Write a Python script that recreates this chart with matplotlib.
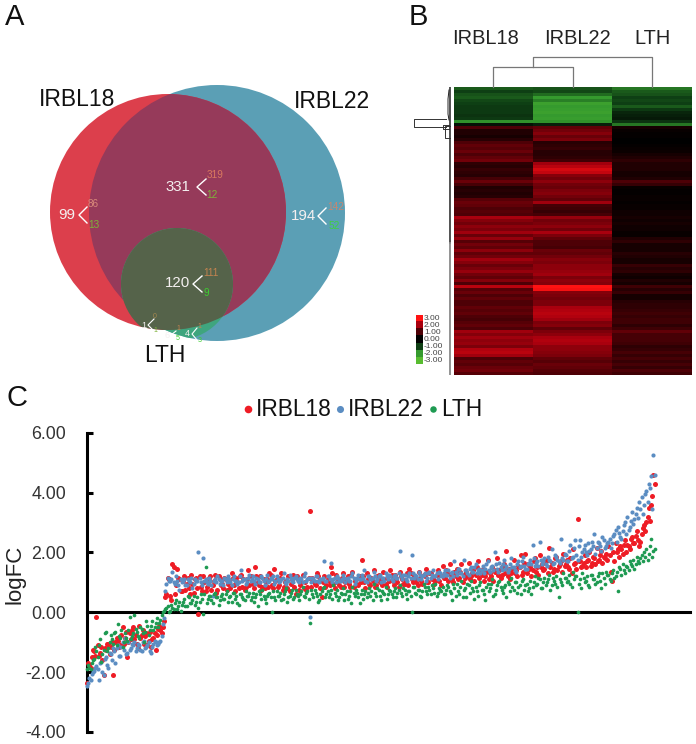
import matplotlib
matplotlib.use("Agg")
import matplotlib.pyplot as plt
from matplotlib.colors import LinearSegmentedColormap
from matplotlib.patches import Circle
import numpy as np

plt.rcParams['font.family'] = ['Liberation Sans', 'DejaVu Sans']

W, H = 696, 744

# venn counts
venn_labels = ["IRBL18", "IRBL22", "LTH"]
venn_totals = [99, 331, 194, 120, 1, 6, 4]
venn_up = [86, 319, 142, 111, 0, 1, 1]
venn_down = [13, 12, 52, 9, 1, 5, 3]

# heatmap, one value per row band
heat_irbl18 = [-1.3,-1.0,-1.2,-1.3,-1.1,-1.0,-0.9,-0.9,-0.9,-0.8,-0.9,-1.9,-0.3,
    1.0,.4,.4,.3,.5,1.0,1.2,1.1,1.3,1.0,1.2,1.4,.6,.5,.7,.6,.5,.9,1.3,.9,.4,.5,.4,.5,1.1,1.3,1.2,
    1.0,1.1,1.0,2.0,1.6,1.4,1.7,1.5,1.9,1.3,1.8,1.1,1.4,1.2,1.7,1.2,1.4,1.9,1.6,1.3,1.5,1.8,1.4,1.2,
    1.6,1.0,2.2,1.1,1.3,1.0,1.2,1.0,1.0,1.2,1.1,1.2,1.0,.9,1.1,1.2,1.0,1.9,1.6,1.9,1.7,1.8,1.5,2.1,
    2.2,1.9,1.0,1.2,1.1,1.3,1.4,1.1]
heat_irbl22 = [-1.2,-1.1,-1.5,-2.0,-1.7,-2.2,-2.0,-2.1,-2.2,-2.0,-2.1,-1.9,-0.5,
    1.2,1.4,1.6,1.3,1.5,.5,.6,.7,.5,.5,.6,.8,1.9,2.2,2.5,2.3,1.6,1.4,1.7,1.4,1.3,1.5,1.6,1.4,1.2,1.9,.9,
    .8,.7,.9,1.8,1.4,1.5,1.7,1.4,2.0,1.5,1.2,1.0,1.0,.9,1.3,1.2,1.4,1.6,1.5,1.7,1.7,1.8,1.9,1.5,
    1.7,1.6,3.0,2.9,1.6,1.5,1.4,1.5,1.5,2.0,2.1,2.2,2.1,1.9,1.5,1.6,1.2,1.5,1.7,2.0,2.1,2.0,1.7,1.7,
    1.6,1.5,1.2,1.1,1.3,1.2,1.1,1.0]
heat_lth = [-1.6,-1.3,-1.2,-1.0,-1.1,-1.0,-1.3,-0.9,-0.6,-0.5,-0.4,-0.8,-1.6,
    .3,.1,.05,.05,.0,.0,.05,.1,.15,.3,.4,.6,.4,.4,.4,.3,.3,.4,1.0,.7,.1,.05,.05,.1,.1,.05,.1,
    .1,.2,.2,.3,.2,.3,.2,.2,.1,.1,.4,.6,.3,.3,.3,.5,.4,.3,.3,.7,.5,.6,.3,.2,
    .4,.3,.8,.5,.7,.3,.3,.5,.6,.6,.7,.8,.7,.8,.8,.6,.8,1.2,.9,.9,.9,.8,.6,.7,
    .9,.7,.9,.7,.9,.7,1.0,.8]
heat_ticks = [3.0, 2.0, 1.0, 0.0, -1.0, -2.0, -3.0]
col_merge_heights = [0.67, 1.0]

# logFC of the sorted genes, odd and even ranks
logfc_irbl18 = [-2.35,-1.75,-1.5,-1.3,-0.15,-1.45,-1.15,-2.1,-1.25,-1.05,
    -1.15,-2.1,-1.0,-0.95,-1.1,-0.5,-0.85,-1.5,-0.7,-0.6,
    -0.9,-1.05,-0.45,-0.75,-1.05,-0.7,-0.95,-1.15,-0.85,-1.25,
    -0.55,-0.6,-0.5,0.5,1.15,0.55,1.6,0.6,1.45,1.1,
    0.7,1.2,0.95,0.8,1.25,0.65,1.15,-0.05,0.85,1.2,
    0.7,1.0,1.2,0.9,1.25,0.75,1.1,0.95,1.15,0.75,
    1.05,1.3,0.9,1.15,0.8,1.25,1.1,0.85,1.4,1.2,
    0.95,1.5,1.0,1.2,0.85,0.8,1.1,1.3,0.9,1.45,
    1.1,0.9,1.3,0.85,1.05,1.2,0.95,1.25,0.6,1.1,
    0.9,1.25,1.0,0.85,3.4,1.15,0.95,1.3,1.05,0.5,
    1.2,0.9,1.05,1.5,0.95,1.25,1.1,0.85,1.3,1.0,
    1.2,0.85,1.35,1.05,0.95,1.2,1.75,1.0,1.3,0.95,
    1.15,1.4,0.9,1.25,1.1,1.35,0.95,1.2,1.4,1.05,
    1.25,1.0,1.35,1.1,0.95,1.3,1.45,1.1,1.2,1.0,
    1.35,1.05,1.25,1.45,1.0,1.3,1.15,1.05,1.4,1.25,
    1.55,1.15,1.3,1.6,1.1,1.35,1.45,1.15,1.6,1.25,
    1.35,1.65,1.2,1.4,1.25,1.7,1.3,1.45,1.2,1.75,
    1.3,1.5,1.35,1.8,1.4,1.25,1.6,2.05,1.45,1.3,
    1.75,1.4,1.55,1.9,1.35,1.95,1.6,1.5,1.4,1.8,
    1.5,1.9,1.6,1.45,1.75,2.15,1.65,1.45,1.85,1.55,
    1.7,1.95,1.6,1.5,1.8,2.1,1.65,3.1,1.7,1.55,
    1.9,1.7,2.0,1.65,1.8,2.15,1.75,2.05,1.85,1.95,
    2.2,1.35,2.0,2.3,2.1,2.2,1.95,2.4,2.25,2.1,
    2.5,2.3,2.7,2.2,2.6,2.9,3.0,3.5,3.6,4.6]
logfc_irbl18_b = [-1.7,-1.85,-1.25,-1.45,-1.1,-1.35,-1.6,-1.2,-1.05,-1.4,
    -1.0,-1.25,-0.85,-1.15,-0.75,-1.05,-0.65,-1.0,-0.9,-0.5,
    -0.75,-1.2,-0.85,-0.6,-0.8,-1.1,-0.65,-0.9,-0.7,-0.75,
    -0.45,-0.7,-0.3,0.6,1.1,0.4,1.5,0.9,1.15,0.7,
    1.05,0.75,1.15,0.6,0.95,1.1,0.8,1.2,0.7,1.0,
    0.85,1.15,0.75,1.05,0.65,1.2,0.9,0.8,1.1,0.95,
    0.8,1.15,0.7,1.0,1.2,0.85,0.75,1.1,0.9,1.05,
    0.8,1.2,0.9,0.75,1.1,1.0,0.85,1.25,0.8,1.05,
    0.85,1.15,0.75,1.0,0.8,0.7,1.1,0.85,1.2,0.75,
    1.0,0.8,0.75,1.15,0.85,1.05,0.9,1.2,0.8,1.0,
    0.85,1.1,0.9,1.3,0.8,1.0,0.9,1.15,0.85,1.05,
    0.95,1.25,0.85,1.1,0.9,1.0,1.2,0.8,1.1,0.9,
    1.05,0.85,1.2,1.0,0.9,1.1,0.85,1.05,1.25,0.9,
    1.1,0.85,1.2,0.95,1.05,0.9,1.3,1.0,1.1,0.9,
    1.15,0.95,1.2,1.0,1.3,1.1,0.95,1.25,1.05,0.9,
    1.15,1.4,1.05,1.25,1.0,1.2,1.1,1.35,1.0,1.15,
    1.2,1.1,1.3,1.05,1.5,1.15,1.25,1.05,1.35,1.1,
    1.2,1.05,1.4,1.25,1.15,1.55,1.3,1.2,1.1,1.45,
    1.3,1.2,1.5,1.25,1.65,1.3,1.45,1.2,1.7,1.35,
    1.25,1.5,1.4,1.7,1.3,1.5,1.35,1.8,1.4,1.6,
    1.35,1.55,1.75,1.45,1.3,1.6,1.45,1.7,1.5,1.65,
    1.5,1.75,1.55,1.85,1.6,1.7,1.9,1.65,1.8,1.75,
    1.9,1.05,1.7,2.0,1.85,2.1,2.25,2.0,2.2,2.45,
    2.3,2.55,2.4,2.35,2.8,2.7,3.2,3.05,3.9,4.3]
logfc_irbl22 = [-2.45,-2.2,-2.05,-1.95,-1.8,-2.25,-1.65,-2.1,-1.5,-1.85,
    -1.4,-1.2,-1.7,-1.1,-1.45,-1.0,-0.85,-1.35,-1.25,-1.05,
    -1.0,-1.2,-1.1,-1.3,-0.95,-1.15,-1.0,-1.35,-1.05,-1.0,
    -1.05,-0.95,-0.4,0.7,1.15,1.05,1.35,0.95,1.05,0.75,
    1.0,1.1,0.9,1.05,1.15,0.95,1.05,2.0,1.0,1.8,
    1.1,0.95,1.05,0.55,1.1,1.2,0.95,1.05,1.15,1.0,
    1.1,0.9,1.2,1.05,1.0,1.4,1.1,0.95,1.15,1.05,
    1.2,0.95,1.1,1.0,1.15,0.9,1.25,1.05,1.1,0.95,
    1.2,1.0,1.1,1.3,0.95,1.05,1.15,1.0,1.2,1.05,
    1.15,1.0,1.3,1.1,-0.15,1.15,1.05,1.2,1.0,1.1,
    1.7,1.05,1.2,1.65,1.1,1.0,1.15,1.05,1.25,1.0,
    1.15,1.05,1.3,0.95,1.15,1.1,1.25,1.4,1.0,1.2,
    1.1,1.35,1.05,1.2,1.0,1.15,1.3,1.1,1.2,1.05,
    1.25,1.15,2.05,1.1,1.25,1.05,1.3,1.9,1.15,1.2,
    1.35,1.1,1.25,1.05,1.3,1.15,1.4,1.2,1.1,1.3,
    1.2,1.4,1.25,1.15,1.35,1.7,1.25,1.45,1.3,1.75,
    1.4,1.25,1.5,1.35,1.6,1.4,1.3,1.55,1.45,1.7,
    1.35,1.55,2.0,1.45,1.65,1.4,1.75,1.55,1.45,1.8,
    1.5,1.35,1.7,1.55,1.85,1.45,1.6,1.75,2.25,1.55,
    1.7,2.35,1.6,1.8,1.55,1.75,2.1,1.65,1.85,1.7,
    2.45,1.75,1.9,1.7,2.25,1.85,2.4,1.75,2.4,2.0,
    2.25,1.9,2.05,2.35,2.6,2.15,2.3,2.05,2.4,2.2,
    2.35,2.15,2.55,2.75,2.85,2.5,2.7,3.0,3.2,2.85,
    3.35,3.1,3.5,3.7,3.85,3.6,4.05,4.3,4.55,5.25]
logfc_irbl22_b = [-2.35,-2.25,-2.0,-1.85,-1.9,-1.7,-2.0,-1.55,-1.75,-1.35,
    -1.6,-1.3,-1.2,-1.45,-1.15,-1.25,-1.4,-1.0,-1.2,-1.1,
    -1.3,-1.05,-1.25,-1.0,-1.2,-1.1,-1.3,-1.15,-0.95,-1.1,
    -1.0,-0.8,-0.2,0.95,1.05,1.1,1.0,1.2,0.9,1.1,
    1.05,0.9,1.1,1.0,0.8,1.1,1.05,1.15,0.9,1.05,
    1.0,1.15,0.9,1.05,1.0,1.1,1.05,0.9,1.1,1.2,
    1.0,1.1,1.05,0.95,1.2,1.05,1.1,1.0,1.25,1.1,
    1.05,1.15,1.0,1.2,1.05,1.1,1.0,1.15,1.2,1.05,
    1.1,1.05,1.15,1.0,1.1,1.25,1.05,1.15,1.1,1.0,
    1.1,1.2,1.05,1.15,1.0,1.1,1.2,1.05,1.1,1.15,
    1.05,1.2,1.1,1.0,1.15,1.2,1.05,1.1,1.15,1.1,
    1.05,1.2,1.15,1.05,1.25,1.1,1.15,1.05,1.2,1.1,
    1.15,1.2,1.1,1.25,1.15,1.05,1.2,1.25,1.1,1.2,
    1.15,1.3,1.2,1.25,1.1,1.2,1.15,1.3,1.25,1.1,
    1.25,1.2,1.3,1.15,1.35,1.25,1.2,1.3,1.35,1.2,
    1.3,1.25,1.4,1.3,1.2,1.35,1.45,1.3,1.2,1.4,
    1.3,1.45,1.35,1.5,1.3,1.45,1.4,1.3,1.6,1.4,
    1.5,1.4,1.6,1.35,1.5,1.6,1.45,1.35,1.6,1.5,
    1.4,1.6,1.5,1.7,1.55,1.45,1.65,1.6,1.8,1.65,
    1.55,1.75,1.7,1.6,1.85,1.7,1.6,1.9,1.75,1.65,
    1.8,1.95,1.7,2.05,1.8,2.15,1.9,2.2,1.85,2.1,
    2.0,2.3,2.1,2.2,1.95,2.35,2.2,2.5,2.15,2.3,
    2.45,2.3,2.6,2.35,2.65,2.45,2.9,2.6,2.75,3.05,
    2.95,3.3,3.15,3.45,3.3,3.95,3.7,4.15,3.45,4.6]
logfc_lth = [-1.9,-1.85,-1.7,-1.55,-1.3,-1.1,-1.65,-1.25,-0.65,-1.2,
    -0.75,-1.05,-0.65,-0.4,-0.85,-1.15,-0.7,-0.95,-0.15,-0.8,
    -0.1,-0.65,-0.85,-0.55,-1.0,-0.3,-0.75,-0.45,-0.6,-0.35,
    -0.5,-0.25,0.0,0.1,0.2,0.05,0.15,0.3,0.1,0.35,
    0.25,0.45,0.2,0.5,0.3,0.55,0.35,0.15,0.6,-0.05,
    1.5,0.45,0.55,0.3,0.65,0.5,0.4,0.6,0.45,0.7,
    0.5,0.35,0.65,0.55,0.25,0.6,0.45,0.7,0.55,0.4,
    0.65,0.5,0.2,0.6,0.75,0.45,0.55,0.65,0.0,0.5,
    0.7,0.55,0.4,0.6,0.8,0.5,0.65,0.45,0.75,0.55,
    0.6,0.85,0.5,0.7,-0.35,0.6,0.75,0.55,0.4,0.7,
    0.85,0.6,0.5,0.75,0.9,0.55,0.4,0.65,0.8,0.6,
    0.45,0.7,0.85,0.55,0.65,0.3,0.75,0.6,0.5,0.8,
    0.7,0.95,0.55,0.75,0.4,0.65,0.85,0.6,0.7,0.5,
    0.8,0.65,0.9,0.55,0.75,0.45,0.7,0.02,0.85,0.6,
    0.75,0.5,0.95,0.7,0.85,0.6,0.8,0.95,0.65,0.75,
    0.85,0.6,0.9,0.7,0.4,0.8,0.95,0.6,1.05,0.75,
    0.5,0.9,1.05,0.7,0.85,0.55,1.0,0.75,0.4,0.95,
    0.8,1.1,0.6,0.9,1.05,0.75,0.85,0.5,0.95,1.15,
    0.75,1.0,0.85,0.6,1.1,0.9,0.7,1.05,0.85,1.2,
    0.95,1.1,0.8,1.15,1.0,1.25,0.9,1.05,1.2,0.5,
    1.0,1.3,1.15,1.05,0.95,1.35,1.2,0.02,1.1,1.3,
    1.0,1.2,0.85,1.25,1.1,1.0,1.3,0.8,1.15,1.35,
    1.25,1.05,1.4,1.2,0.7,1.45,1.6,1.3,1.5,1.7,
    1.55,1.45,1.85,1.65,1.9,2.0,2.1,1.95,2.45,2.05]
logfc_lth_b = [-1.75,-1.9,-1.6,-1.15,-1.5,-0.9,-1.4,-0.7,-1.3,-1.0,
    -0.9,-0.7,-1.1,-0.8,-0.6,-1.0,-0.85,-0.6,-0.9,-0.7,
    -0.55,-0.8,-0.5,-0.7,-0.65,-0.45,-0.6,-0.3,-0.5,-0.2,
    -0.35,-0.1,0.05,0.15,0.0,0.25,0.1,0.4,0.2,0.05,
    0.35,0.2,0.55,0.3,0.4,0.25,0.5,0.35,0.45,0.6,
    0.3,0.55,0.4,0.6,0.5,0.25,0.55,0.45,0.6,0.35,
    0.55,0.65,0.45,0.3,0.6,0.5,0.4,0.55,0.65,0.5,
    0.35,0.6,0.7,0.45,0.55,0.3,0.6,0.5,0.7,0.4,
    0.55,0.65,0.45,0.7,0.35,0.55,0.75,0.5,0.6,0.4,
    0.7,0.55,0.65,0.45,0.75,0.5,0.65,0.35,0.6,0.8,
    0.5,0.7,0.6,0.45,0.65,0.75,0.5,0.6,0.4,0.7,
    0.55,0.3,0.65,0.75,0.5,0.6,0.45,0.7,0.65,0.55,
    0.4,0.65,0.8,0.55,0.7,0.6,0.45,0.75,0.6,0.7,
    0.5,0.75,0.65,0.8,0.6,0.7,0.55,0.85,0.65,0.75,
    0.55,0.7,0.85,0.6,0.75,0.9,0.65,0.55,0.8,0.7,
    0.6,0.75,0.85,0.65,0.95,0.55,0.7,0.85,0.5,0.8,
    0.95,0.65,0.8,0.45,0.7,0.9,0.75,0.6,0.85,0.7,
    0.95,0.55,0.75,1.0,0.85,0.65,0.9,1.0,0.7,0.85,
    1.0,0.65,0.9,1.05,0.75,0.95,0.8,0.6,1.0,0.9,
    1.15,0.8,1.0,0.9,1.1,0.75,1.15,0.95,0.85,1.1,
    0.9,1.15,1.0,1.25,0.85,1.1,1.2,0.95,0.8,1.15,
    1.05,0.9,1.25,1.1,0.95,1.2,1.05,1.3,0.95,1.25,
    1.1,1.3,1.15,1.35,1.5,1.25,1.4,1.55,1.4,1.6,
    1.75,1.6,1.7,1.8,1.7,1.85,1.75,2.2,1.85,2.1]


def px_rect(x0, y0, x1, y1):
    return [x0 / W, 1 - y1 / H, (x1 - x0) / W, (y1 - y0) / H]


fig = plt.figure(figsize=(W / 100, H / 100), dpi=100)

# overlay in pixel units for the venn and the loose labels
ax = fig.add_axes([0, 0, 1, 1])
ax.set_xlim(0, W)
ax.set_ylim(H, 0)
ax.axis('off')

red_c = Circle((168, 212), 118, fc='#DC3F4C', ec='none')
blue_c = Circle((217, 213), 128, fc='#5B9FB5', ec='none')
ax.add_patch(blue_c)
ax.add_patch(red_c)
over = Circle((217, 213), 128, fc='#963A5A', ec='none', zorder=2)
ax.add_patch(over)
over.set_clip_path(red_c)
green_low = Circle((177, 284), 56, fc='#3FA57E', ec='none', zorder=3)
ax.add_patch(green_low)
green_low.set_clip_path(blue_c)
green_red = Circle((177, 284), 56, fc='#55634A', ec='none', zorder=4)
ax.add_patch(green_red)
green_red.set_clip_path(red_c)

total_pos = [(67, 215), (178, 187), (303, 216), (178, 283), (144, 325), (167, 335), (187, 334)]
vertex_pos = [(79, 215), (197, 187), (318, 216), (193, 284), (148, 325), (171, 335), (192, 334)]
arm_size = [(8, 8), (9, 8), (8, 8), (9, 8), (6, 6), (5, 4), (5, 6)]
up_pos = [(93, 204), (215, 175), (336, 207), (211, 273), (155, 317), (178, 328), (199, 327)]
down_pos = [(94, 225), (212, 195), (334, 226), (206, 293), (155, 330), (178, 339), (200, 340)]
up_col = ['#D9897A', '#D9795F', '#C88770', '#C48450', '#A88A50', '#C48450', '#C48450']
down_col = ['#7FB23A', '#7FB23A', '#3FD23F', '#3ED030', '#7FB23A', '#3ED030', '#3ED030']
for i in range(len(venn_totals)):
    big = i < 4
    ax.text(*total_pos[i], str(venn_totals[i]), color='#F4F0F0', fontsize=10.8 if big else 6.5,
            ha='center', va='center', zorder=6)
    vx, vy = vertex_pos[i]
    dx, dy = arm_size[i]
    ax.plot([vx + dx, vx, vx + dx], [vy - dy, vy, vy + dy], color='white',
            lw=1.0 if big else 0.8, zorder=6)
    ax.text(*up_pos[i], str(venn_up[i]), color=up_col[i], fontsize=7.2 if big else 5,
            ha='center', va='center', zorder=6)
    ax.text(*down_pos[i], str(venn_down[i]), color=down_col[i], fontsize=7.2 if big else 5,
            ha='center', va='center', zorder=6)

for lab, pos in zip(venn_labels, [(77, 99), (332, 101), (165, 356)]):
    ax.text(*pos, lab, fontsize=16.5, color='#111111', ha='center', va='center', zorder=6)

for lab, pos in zip("ABC", [(15, 17), (418, 17), (17, 398)]):
    ax.text(*pos, lab, fontsize=21, color='#111111', ha='center', va='center')

# heatmap
cmap = LinearSegmentedColormap.from_list('gkr', [
    (0.0, '#58BC30'), (1 / 6, '#359A2E'), (2 / 6, '#0F3F14'), (0.5, '#000000'),
    (4 / 6, '#4E0006'), (5 / 6, '#A8000E'), (1.0, '#FF1212')])
heat = np.array([heat_irbl18, heat_irbl22, heat_lth]).T
ax_h = fig.add_axes(px_rect(454, 87, 691, 375))
ax_h.imshow(heat, aspect='auto', cmap=cmap, vmin=-3, vmax=3, interpolation='nearest')
ax_h.axis('off')

for lab, x in zip(venn_labels, [486, 577, 653]):
    ax.text(x, 38, lab, fontsize=14.4, color='#222222', ha='center', va='center')

# column dendrogram, x in heatmap columns
ax_cd = fig.add_axes(px_rect(454, 57, 691, 87))
ax_cd.set_xlim(-0.5, 2.5)
ax_cd.set_ylim(0, 1)
ax_cd.axis('off')
h1, h2 = col_merge_heights
ax_cd.plot([0, 0, 1, 1], [0, h1, h1, 0], color='#777777', lw=0.9, clip_on=False)
ax_cd.plot([0.5, 0.5, 2, 2], [h1, h2, h2, 0], color='#777777', lw=0.9, clip_on=False)

# row dendrogram, y in heatmap rows
ax_rd = fig.add_axes(px_rect(410, 87, 452, 375))
ax_rd.set_xlim(42, 0)
ax_rd.set_ylim(96, 0)
ax_rd.axis('off')
ax_rd.plot([2, 2], [0, 52], color='#222222', lw=1.1)
ax_rd.plot([2, 2], [52, 96], color='#8A8A8A', lw=1.3)
ax_rd.plot([6, 38, 38, 6], [10.7, 10.7, 13.3, 13.3], color='#333333', lw=0.7)
ax_rd.plot([2, 7, 7, 2], [13, 13, 17, 17], color='#333333', lw=0.7)
ax_rd.plot([3, 9, 9, 3], [12.6, 12.6, 14, 14], color='#333333', lw=0.7)
ax_rd.plot([3, 4, 4, 3], [1, 4, 9, 11], color='#222222', lw=0.7)

# colour key
ax_key = fig.add_axes(px_rect(416, 315, 423, 364))
ax_key.imshow(np.array(heat_ticks).reshape(-1, 1), aspect='auto', cmap=cmap, vmin=-3, vmax=3)
ax_key.axis('off')
for i, t in enumerate(heat_ticks):
    ax.text(424, 318.5 + 7 * i, "%.2f" % t, fontsize=6, color='#444444', ha='left', va='center')

# scatter
ax_s = fig.add_axes(px_rect(87, 432.7, 690, 732))
rank = np.arange(len(logfc_irbl18))
ax_s.scatter(rank, logfc_irbl18, s=13, color='#EE1C25', lw=0, clip_on=False, zorder=3)
ax_s.scatter(rank + 0.5, logfc_irbl18_b, s=13, color='#EE1C25', lw=0, clip_on=False, zorder=3)
ax_s.scatter(rank, logfc_irbl22, s=9, color='#5B8DC2', lw=0, clip_on=False, zorder=4)
ax_s.scatter(rank + 0.5, logfc_irbl22_b, s=9, color='#5B8DC2', lw=0, clip_on=False, zorder=4)
ax_s.scatter(rank, logfc_lth, s=7, color='#1E9A52', lw=0, clip_on=False, zorder=5)
ax_s.scatter(rank + 0.5, logfc_lth_b, s=7, color='#1E9A52', lw=0, clip_on=False, zorder=5)
ax_s.set_xlim(0, 603 / 2.37)
ax_s.set_ylim(-4, 6)
ax_s.set_yticks([6, 4, 2, 0, -2, -4])
ax_s.set_yticklabels(["%.2f" % v for v in [6, 4, 2, 0, -2, -4]], fontsize=12.8, color='#333333')
ax_s.set_xticks([])
ax_s.patch.set_alpha(0)
for s in ['top', 'right']:
    ax_s.spines[s].set_visible(False)
ax_s.spines['left'].set_linewidth(2.2)
ax_s.spines['bottom'].set_position(('data', 0))
ax_s.spines['bottom'].set_linewidth(2.2)
ax_s.tick_params(axis='y', direction='in', length=4, width=2.2, pad=15)
ax.text(15, 574, "logFC", fontsize=16, rotation=90, color='#222222', ha='center', va='center')

# legend
for x, col, sz, lab, tx in [(248, '#EE1C25', 30, "IRBL18", 256),
                            (340, '#5B8DC2', 26, "IRBL22", 348),
                            (433, '#1E9A52', 22, "LTH", 441)]:
    ax.scatter([x], [409], s=sz, color=col, lw=0)
    ax.text(tx, 409, lab, fontsize=16.4, color='#111111', ha='left', va='center')

fig.savefig("out.png", dpi=100)
